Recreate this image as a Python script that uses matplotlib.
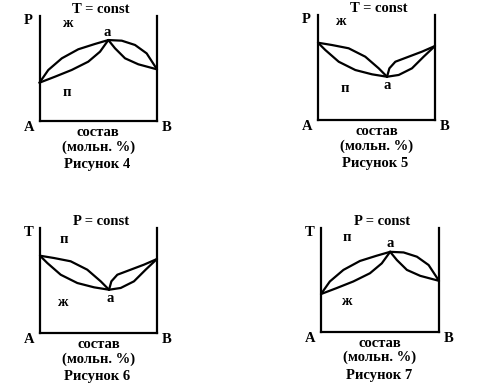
import matplotlib
matplotlib.use("Agg")
import matplotlib.pyplot as plt

plt.rcParams['font.family'] = ['Liberation Serif', 'DejaVu Serif']

# maximum (azeotrope) diagram: Рисунок 4 and 7
max_upper_left_x = [0, 0.075, 0.19, 0.33, 0.47, 0.586]
max_upper_left_y = [0.365, 0.486, 0.597, 0.683, 0.733, 0.771]
max_lower_left_x = [0, 0.132, 0.274, 0.415, 0.515, 0.586]
max_lower_left_y = [0.365, 0.422, 0.486, 0.565, 0.660, 0.771]
max_upper_right_x = [0.586, 0.70, 0.813, 0.912, 1.0]
max_upper_right_y = [0.771, 0.765, 0.724, 0.644, 0.492]
max_lower_right_x = [0.586, 0.643, 0.728, 0.841, 1.0]
max_lower_right_y = [0.771, 0.692, 0.597, 0.540, 0.492]

# minimum diagram: Рисунок 5 and 6
min_upper_left_x = [0, 0.12, 0.262, 0.404, 0.519, 0.59]
min_upper_left_y = [0.736, 0.714, 0.683, 0.603, 0.492, 0.412]
min_lower_left_x = [0, 0.062, 0.177, 0.319, 0.462, 0.59]
min_lower_left_y = [0.736, 0.667, 0.555, 0.476, 0.435, 0.412]
min_upper_right_x = [0.59, 0.61, 0.661, 0.775, 0.889, 1.0]
min_upper_right_y = [0.412, 0.492, 0.555, 0.603, 0.651, 0.705]
min_lower_right_x = [0.59, 0.69, 0.803, 0.903, 1.0]
min_lower_right_y = [0.412, 0.429, 0.492, 0.603, 0.705]

max_curves = [(max_upper_left_x, max_upper_left_y), (max_lower_left_x, max_lower_left_y),
              (max_upper_right_x, max_upper_right_y), (max_lower_right_x, max_lower_right_y)]
min_curves = [(min_upper_left_x, min_upper_left_y), (min_lower_left_x, min_lower_left_y),
              (min_upper_right_x, min_upper_right_y), (min_lower_right_x, min_lower_right_y)]

titles = ["T = const", "T = const", "P = const", "P = const"]
y_names = ["P", "P", "T", "T"]
x_label = "состав\n(мольн. %)"
captions = ["Рисунок 4", "Рисунок 5", "Рисунок 6", "Рисунок 7"]

W, H = 483, 390
fig = plt.figure(figsize=(W / 100, H / 100), dpi=100)

# axes boxes in pixels: left, top, right, bottom
boxes = [(39.5, 16, 157, 121), (318, 15, 435, 120), (40, 228, 157, 333), (321, 228, 439, 332)]

# per panel: curves, (label, x, y) for phase labels and point a
panels = [
    (max_curves, [("ж", 0.234, 0.93), ("а", 0.574, 0.84), ("п", 0.234, 0.27)]),
    (min_curves, [("ж", 0.19, 0.94), ("а", 0.59, 0.33), ("п", 0.23, 0.30)]),
    (min_curves, [("п", 0.205, 0.895), ("а", 0.60, 0.33), ("ж", 0.19, 0.29)]),
    (max_curves, [("п", 0.22, 0.905), ("а", 0.585, 0.85), ("ж", 0.21, 0.29)]),
]

fs = 10.5
for i, (curves, labels) in enumerate(panels):
    l, t, r, b = boxes[i]
    ax = fig.add_axes([l / W, 1 - b / H, (r - l) / W, (b - t) / H])
    ax.set_xlim(0, 1)
    ax.set_ylim(0, 1)
    for cx, cy in curves:
        ax.plot(cx, cy, color='black', lw=1.6, clip_on=False, solid_capstyle='round')
    ax.spines['top'].set_visible(False)
    for s in ['left', 'right', 'bottom']:
        ax.spines[s].set_linewidth(1.6)
    ax.set_xticks([])
    ax.set_yticks([])

    kw = dict(transform=ax.transAxes, ha='center', va='center', fontsize=fs, fontweight='bold')
    for txt, x, y in labels:
        ax.text(x, y, txt, **kw)
    ax.text(0.52, 1.03, titles[i], transform=ax.transAxes, ha='center', va='baseline',
            fontsize=fs, fontweight='bold')
    ax.text(-0.1, 0.96, y_names[i], **kw)
    ax.text(-0.09, -0.06, "A", **kw)
    ax.text(1.08, -0.06, "B", **kw)
    ax.text(0.50, -0.18, x_label, linespacing=1.08, **kw)
    ax.text(0.49, -0.415, captions[i], **kw)

fig.savefig("out.png", dpi=100)
